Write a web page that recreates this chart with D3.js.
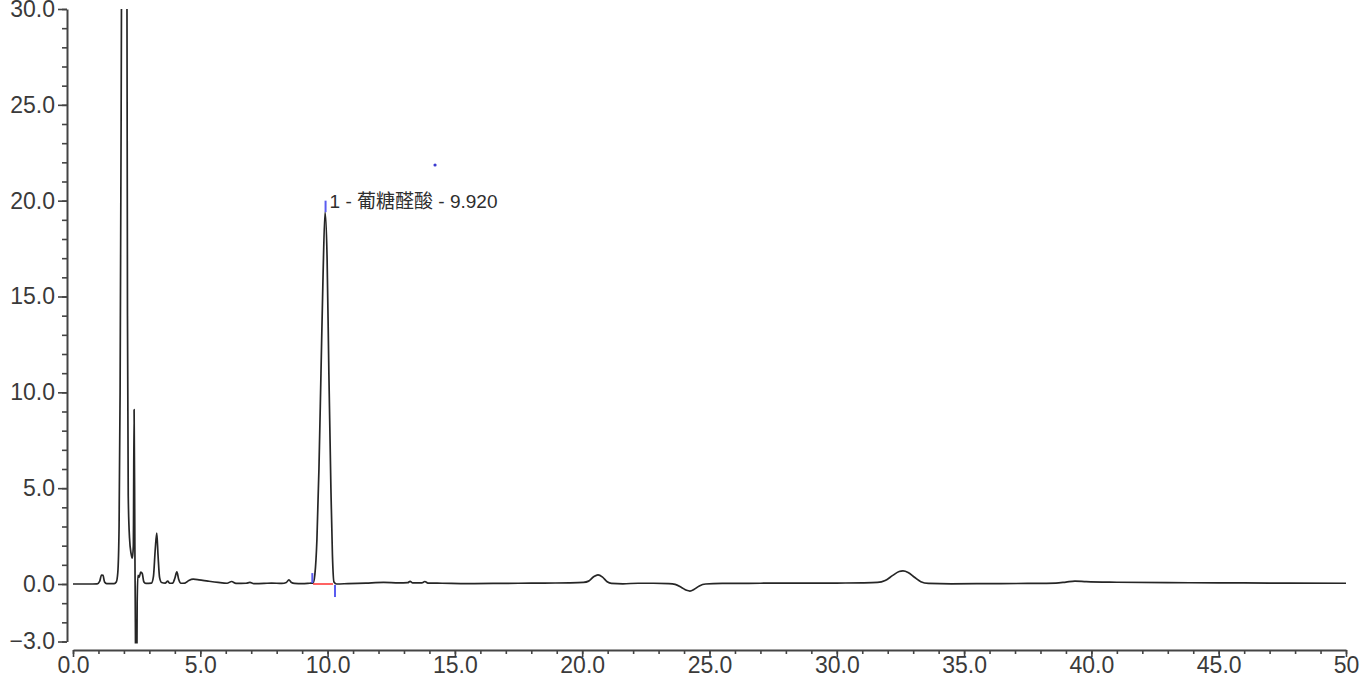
<!DOCTYPE html>
<html>
<head>
<meta charset="utf-8">
<script src="https://cdnjs.cloudflare.com/ajax/libs/d3/7.8.5/d3.min.js"></script>
<style>
  body { margin: 0; background: #fff; }
  svg { display: block; }
  .axis text { font-family: "Liberation Sans", Arial, sans-serif; font-size: 23px; fill: #3a3a3a; }
  .axis path, .axis line { stroke: #444; }
</style>
</head>
<body>
<svg id="chart"></svg>
<script>
// retention time (min) and detector signal
var timeMin = [
  0.00, 0.60, 0.95, 1.05, 1.12, 1.18, 1.24, 1.32, 1.62, 1.70, 1.76, 1.81, 1.85, 1.89, 1.93, 1.98,
  2.04, 2.09, 2.12, 2.14, 2.17, 2.22, 2.28, 2.33, 2.37, 2.40, 2.43, 2.45, 2.47, 2.50, 2.52, 2.55,
  2.60, 2.66, 2.72, 2.78, 2.86, 3.08, 3.16, 3.23, 3.29, 3.34, 3.40, 3.48, 3.62, 3.72, 3.80, 3.92,
  4.00, 4.08, 4.15, 4.24, 4.40, 4.55, 4.72, 4.95, 5.30, 5.70, 6.05, 6.23, 6.40, 6.80, 6.95, 7.10,
  7.50, 7.80, 8.20, 8.38, 8.48, 8.58, 8.70, 9.00, 9.30, 9.43, 9.50, 9.58, 9.66, 9.74, 9.82, 9.90,
  9.98, 10.05, 10.13, 10.19, 10.25, 10.35, 10.80, 11.50, 12.20, 12.80, 13.15, 13.24, 13.34, 13.70,
  13.82, 13.94, 14.50, 15.50, 16.50, 17.50, 18.50, 19.50, 20.05, 20.25, 20.45, 20.62, 20.80, 20.98,
  21.15, 21.60, 22.20, 22.80, 23.40, 23.65, 23.90, 24.10, 24.23, 24.40, 24.60, 24.85, 25.50, 27.00,
  28.50, 30.00, 31.00, 31.60, 31.90, 32.20, 32.45, 32.60, 32.80, 33.05, 33.30, 33.60, 34.50, 36.00,
  37.50, 38.60, 39.00, 39.35, 39.80, 41.00, 43.00, 45.00, 47.00, 50.00
];
var signal = [
  0.00, 0.00, 0.01, 0.15, 0.47, 0.45, 0.10, 0.02, 0.02, 0.10, 0.6, 3.0, 10.0, 24, 42, 56,
  60, 48, 30, 14, 4.6, 2.4, 1.6, 1.35, 2.0, 9.1, 2.0, -2, -6, -6, -1, 0.45,
  0.35, 0.62, 0.55, 0.12, 0.03, 0.05, 0.4, 1.8, 2.66, 1.5, 0.35, 0.08, 0.05, 0.15, 0.04, 0.05,
  0.3, 0.63, 0.25, 0.04, 0.05, 0.18, 0.25, 0.22, 0.15, 0.08, 0.04, 0.13, 0.03, 0.04, 0.08, 0.02,
  0.03, 0.05, 0.03, 0.08, 0.22, 0.08, 0.03, 0.02, 0.04, 0.05, 0.5, 2.3, 6.0, 11.0, 16.0, 19.4,
  17.0, 11.0, 5.0, 1.5, 0.1, 0.0, 0.02, 0.05, 0.08, 0.06, 0.07, 0.14, 0.06, 0.06,
  0.13, 0.05, 0.04, 0.02, 0.03, 0.04, 0.05, 0.06, 0.08, 0.15, 0.38, 0.48, 0.36, 0.12,
  0.03, 0.01, 0.04, 0.04, 0.02, -0.02, -0.18, -0.33, -0.37, -0.28, -0.1, 0.0, 0.03, 0.04,
  0.05, 0.05, 0.06, 0.08, 0.18, 0.45, 0.65, 0.68, 0.6, 0.35, 0.12, 0.03, 0.01, 0.02,
  0.03, 0.05, 0.1, 0.15, 0.12, 0.09, 0.07, 0.06, 0.05, 0.04
];

var xTicks = [0, 5, 10, 15, 20, 25, 30, 35, 40, 45, 50];
var yTicks = [-3, 0, 5, 10, 15, 20, 25, 30];

// integrated peak
var peakName = "1 - 葡糖醛酸 - 9.920";
var peakApex = [9.92, 19.4];
var peakStart = [9.43, 0.05];
var peakEnd = [10.29, -0.05];
var strayDot = [14.22, 21.86];

var dimensions = {
  width: 1367,
  height: 681,
  left: 73,
  right: 1346,
  top: 9,
  bottom: 641.5,
  xAxisY: 650,
  yAxisX: 67
};

var svg = d3.select("#chart")
  .attr("width", dimensions.width)
  .attr("height", dimensions.height);

var xScale = d3.scaleLinear()
  .domain([0, 50])
  .range([dimensions.left, dimensions.right]);

var yScale = d3.scaleLinear()
  .domain([-3, 30])
  .range([dimensions.bottom, dimensions.top]);

svg.append("defs").append("clipPath")
  .attr("id", "plot")
  .append("rect")
  .attr("x", dimensions.yAxisX)
  .attr("y", dimensions.top)
  .attr("width", dimensions.right - dimensions.yAxisX)
  .attr("height", dimensions.bottom - dimensions.top + 2);

// minor ticks first, then the labelled ones on top
var yMinor = svg.append("g")
  .attr("class", "axis")
  .attr("transform", `translate(${dimensions.yAxisX},0)`)
  .call(d3.axisLeft(yScale).tickValues(d3.range(-3, 31, 1)).tickSize(5).tickFormat("").tickSizeOuter(0));
yMinor.select(".domain").remove();
yMinor.selectAll("line").attr("stroke-width", 1.6);

var yAxis = svg.append("g")
  .attr("class", "axis")
  .attr("transform", `translate(${dimensions.yAxisX},0)`)
  .call(d3.axisLeft(yScale).tickValues(yTicks).tickSize(9).tickPadding(3).tickSizeOuter(0)
    .tickFormat(d3.format(".1f")));
yAxis.select(".domain").attr("stroke-width", 2);
yAxis.selectAll("line").attr("stroke-width", 1.6);

var xMinor = svg.append("g")
  .attr("class", "axis")
  .attr("transform", `translate(0,${dimensions.xAxisY})`)
  .call(d3.axisBottom(xScale).tickValues(d3.range(0, 51, 1)).tickSize(4).tickFormat("").tickSizeOuter(0));
xMinor.select(".domain").remove();
xMinor.selectAll("line").attr("stroke-width", 1.6);

var xAxis = svg.append("g")
  .attr("class", "axis")
  .attr("transform", `translate(0,${dimensions.xAxisY})`)
  .call(d3.axisBottom(xScale).tickValues(xTicks).tickSize(7).tickPadding(0).tickSizeOuter(0)
    .tickFormat(d3.format(".1f")));
xAxis.select(".domain").attr("stroke-width", 2);
xAxis.selectAll("line").attr("stroke-width", 1.6);
// the last label is cut off at the picture edge
xAxis.selectAll(".tick").filter(function (d) { return d === 50; }).select("text").text("50");

var line = d3.line()
  .x(function (d, i) { return xScale(timeMin[i]); })
  .y(function (d) { return yScale(d); })
  .curve(d3.curveMonotoneX);

svg.append("path")
  .datum(signal)
  .attr("clip-path", "url(#plot)")
  .attr("fill", "none")
  .attr("stroke", "#262626")
  .attr("stroke-width", 1.7)
  .attr("stroke-linejoin", "round")
  .attr("d", line);

// baseline of the integrated peak
svg.append("line")
  .attr("x1", xScale(peakStart[0]))
  .attr("x2", xScale(peakEnd[0]) - 2)
  .attr("y1", yScale(0))
  .attr("y2", yScale(0))
  .attr("stroke", "#ff3b3b")
  .attr("stroke-width", 1.6);

// start / apex / end markers
var markers = [
  [peakStart[0] - 0.03, peakStart[1], 0.57],
  [peakApex[0], peakApex[1], 20.0],
  [peakEnd[0], peakEnd[1], -0.68]
];
svg.selectAll(".marker")
  .data(markers)
  .enter()
  .append("line")
  .attr("class", "marker")
  .attr("x1", function (d) { return xScale(d[0]); })
  .attr("x2", function (d) { return xScale(d[0]); })
  .attr("y1", function (d) { return yScale(d[1]); })
  .attr("y2", function (d) { return yScale(d[2]); })
  .attr("stroke", "#5a5cf0")
  .attr("stroke-width", 2);

svg.append("circle")
  .attr("cx", xScale(strayDot[0]))
  .attr("cy", yScale(strayDot[1]))
  .attr("r", 1.6)
  .attr("fill", "#3a3ad0");

svg.append("text")
  .attr("x", xScale(peakApex[0]) + 4)
  .attr("y", yScale(19.6))
  .attr("font-family", "'Liberation Sans', 'Noto Sans CJK SC', sans-serif")
  .attr("font-size", 19)
  .attr("fill", "#2e2e2e")
  .text(peakName);
</script>
</body>
</html>
